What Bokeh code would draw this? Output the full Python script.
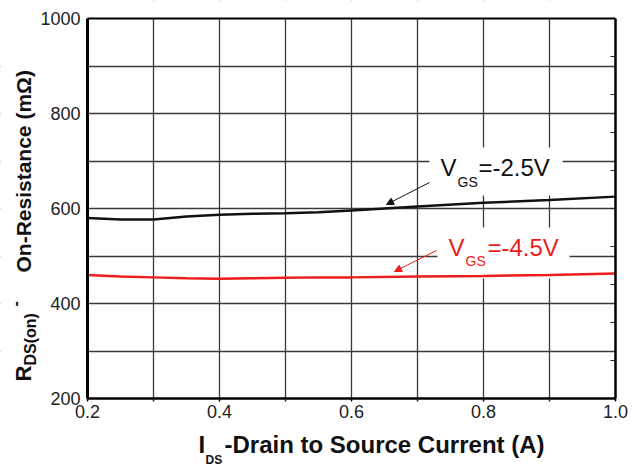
import math
from bokeh.plotting import figure
from bokeh.models import (Range1d, FixedTicker, LinearAxis, BoxAnnotation,
                          Arrow, NormalHead, PrintfTickFormatter)
from bokeh.core.properties import value
from bokeh.embed import file_html
from bokeh.resources import INLINE

# ---- data ----
ids_a = [0.2, 0.25, 0.3, 0.35, 0.4, 0.45, 0.5, 0.55, 0.6, 0.7, 0.8, 0.9, 1.0]
rds_vgs_25 = [580, 577, 577, 583, 587, 589, 590, 592, 596, 604, 612, 618, 625]
rds_vgs_45 = [460, 457, 455, 453, 452, 453, 454, 455, 455, 457, 458, 460, 463]

x_label_ticks = [0.2, 0.4, 0.6, 0.8, 1.0]
x_grid_ticks = [0.3, 0.4, 0.5, 0.6, 0.7, 0.8, 0.9]
x_small_ticks = [0.3, 0.5, 0.7, 0.9]
y_label_ticks = [200, 400, 600, 800, 1000]
y_grid_ticks = [300, 400, 500, 600, 700, 800, 900]
right_minor_ticks = [280, 360, 440, 520, 600, 680, 760, 840, 920]

FONT = "Liberation Sans"
W, H = 632, 466

# plot-area geometry in page pixels
FL, FR, FT, FB = 87, 615, 18, 398
X0, X1, Y0, Y1 = 0.2, 1.0, 200, 1000
SX = (FR - FL) / (X1 - X0)   # px per x unit
SY = (FB - FT) / (Y1 - Y0)   # px per y unit


def px2x(px):
    return X0 + (px - FL) / SX


def py2y(py):
    return Y1 - (py - FT) / SY


p = figure(width=W, height=H, output_backend="svg", toolbar_location=None,
           x_range=Range1d(px2x(0), px2x(W)), y_range=Range1d(py2y(H), py2y(0)),
           min_border=0, min_border_left=0, min_border_right=0,
           min_border_top=0, min_border_bottom=0)
p.background_fill_color = "white"
p.border_fill_color = "white"
p.outline_line_color = None

# grid (inside the plot area only)
p.xgrid.ticker = FixedTicker(ticks=x_grid_ticks)
p.ygrid.ticker = FixedTicker(ticks=y_grid_ticks)
for g in (p.xgrid[0], p.ygrid[0]):
    g.grid_line_color = "#3a3a3a"
    g.grid_line_width = 1.3

# white masks outside the plot area (cover the grid lines there)
for kw in (dict(right=X0), dict(left=X1), dict(top=Y0), dict(bottom=Y1)):
    p.add_layout(BoxAnnotation(fill_color="white", fill_alpha=1, line_color=None,
                               level="underlay", **kw))

# bottom axis
xa = p.xaxis[0]
xa.fixed_location = Y0
xa.bounds = (X0, X1)
xa.ticker = FixedTicker(ticks=x_label_ticks, minor_ticks=x_small_ticks)
xa.formatter = PrintfTickFormatter(format="%.1f")
xa.major_tick_out = 3
xa.major_tick_in = 0
xa.minor_tick_out = 3
xa.minor_tick_in = 0
xa.major_tick_line_width = 1.5
xa.minor_tick_line_width = 1.5
xa.minor_tick_line_color = "#222222"
xa.axis_line_width = 2.5
xa.major_label_standoff = 3
xa.major_label_text_font = FONT
xa.major_label_text_font_size = "18px"
xa.major_label_text_color = "#222222"

# left axis
ya = p.yaxis[0]
ya.fixed_location = X0
ya.bounds = (Y0, Y1)
ya.ticker = FixedTicker(ticks=y_label_ticks, minor_ticks=[])
ya.minor_tick_line_color = None
ya.major_tick_out = 0
ya.major_tick_in = 0
ya.axis_line_width = 3
ya.major_label_standoff = 7
ya.major_label_text_font = FONT
ya.major_label_text_font_size = "18px"
ya.major_label_text_color = "#222222"

# top border
ta = LinearAxis(fixed_location=Y1, bounds=(X0, X1), ticker=FixedTicker(ticks=[], minor_ticks=[]))
ta.axis_line_width = 2
ta.major_tick_line_color = None
ta.minor_tick_line_color = None
p.add_layout(ta, "above")

# right border with small inner ticks
ra = LinearAxis(fixed_location=X1, bounds=(Y0, Y1),
                ticker=FixedTicker(ticks=[], minor_ticks=right_minor_ticks))
ra.axis_line_width = 2.5
ra.major_tick_line_color = None
ra.minor_tick_in = 5
ra.minor_tick_out = 0
ra.minor_tick_line_width = 1.2
ra.minor_tick_line_color = "#222222"
p.add_layout(ra, "right")

# white boxes behind the curve labels (hide the grid there)
p.add_layout(BoxAnnotation(left=px2x(429), right=px2x(562), top=py2y(147), bottom=py2y(195),
                           fill_color="white", fill_alpha=1, line_color=None, level="underlay"))
p.add_layout(BoxAnnotation(left=px2x(437), right=px2x(569), top=py2y(227), bottom=py2y(278),
                           fill_color="white", fill_alpha=1, line_color=None, level="underlay"))

# curves
p.line(ids_a, rds_vgs_25, line_color="#111111", line_width=2.5)
p.line(ids_a, rds_vgs_45, line_color="#ee1c1c", line_width=2.5)

# arrows
p.add_layout(Arrow(x_start=px2x(429), y_start=py2y(182), x_end=px2x(386), y_end=py2y(204),
                   line_color="#111111", line_width=1,
                   end=NormalHead(size=7, fill_color="#111111", line_color="#111111")))
p.add_layout(Arrow(x_start=px2x(436), y_start=py2y(250), x_end=px2x(394), y_end=py2y(271),
                   line_color="#ee1c1c", line_width=1,
                   end=NormalHead(size=7, fill_color="#ee1c1c", line_color="#ee1c1c")))

BASE_K = 0.4   # empirical offset of the rendered baseline, in em


def txt(px, py, text, size, color="#111111", bold=False, rotated=False):
    shift = BASE_K * size
    if rotated:
        px, angle = px - shift, math.pi / 2
    else:
        py, angle = py - shift, 0.0
    p.text(x=[px2x(px)], y=[py2y(py)], text=[text], text_font=value(FONT),
           text_font_size=value(f"{size}px"), text_color=color,
           text_font_style="bold" if bold else "normal",
           text_align="left", text_baseline="alphabetic", angle=angle)


# curve labels
txt(440, 177, "V", 24)
txt(457, 187, "GS", 14)
txt(478, 177, "=-2.5V", 24)
txt(448, 257, "V", 24, color="#ee1c1c")
txt(465, 266, "GS", 14, color="#ee1c1c")
txt(487, 257, "=-4.5V", 24, color="#ee1c1c")

# x axis title
txt(198, 454, "I", 24, bold=True)
txt(205, 464, "DS", 12, bold=True)
txt(224, 454, "-Drain to Source Current (A)", 24, bold=True)

# y axis title (rotated)
txt(31.5, 381, "R", 22, bold=True, rotated=True)
txt(36.5, 365, "DS(on)", 16, bold=True, rotated=True)
txt(21, 306, "-", 16, bold=True, rotated=True)
txt(31.5, 272, "On-Resistance (mΩ)", 21, bold=True, rotated=True)

open("out.html", "w").write(file_html(p, INLINE))
